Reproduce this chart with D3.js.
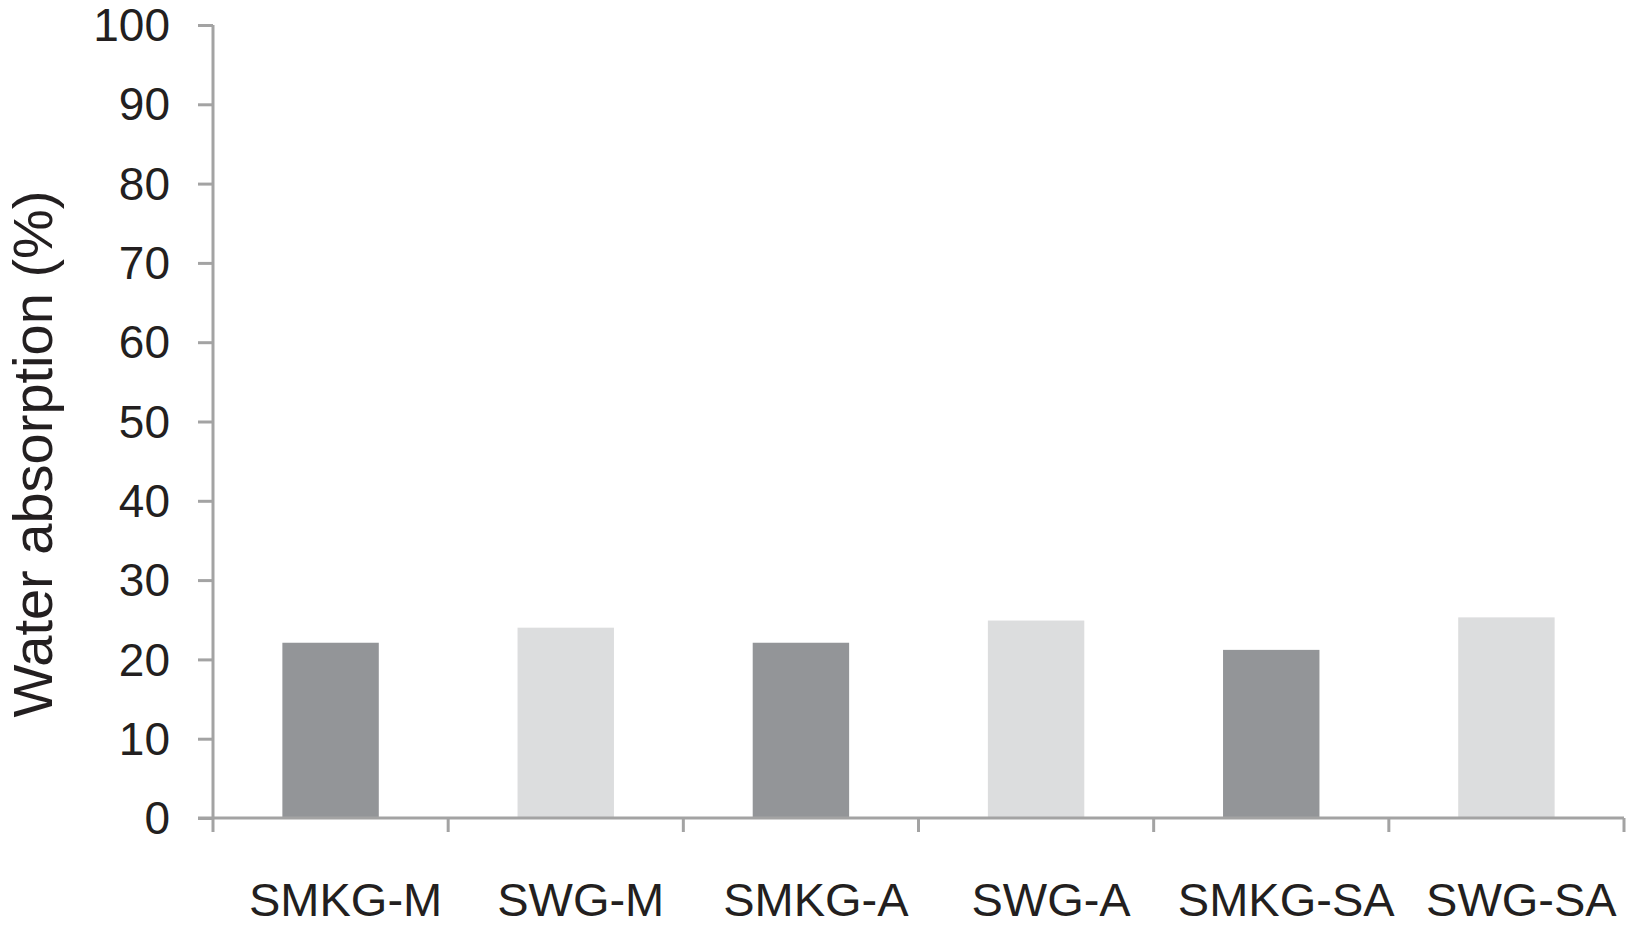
<!DOCTYPE html>
<html lang="en">
<head>
    <meta charset="UTF-8">
    <title>Water absorption</title>
    <script src="https://d3js.org/d3.v7.min.js"></script>
    <style>
      body { margin: 0; background: #fff; }
      svg text { font-family: "Liberation Sans", Arial, sans-serif; fill: #231f20; }
    </style>
</head>
<body>
    <svg width="1627" height="930"></svg>

    <script>
    // data
    var categories = ["SMKG-M", "SWG-M", "SMKG-A", "SWG-A", "SMKG-SA", "SWG-SA"];
    var absorption = [22.1, 24.0, 22.1, 24.9, 21.2, 25.3];
    var yTicks = [0, 10, 20, 30, 40, 50, 60, 70, 80, 90, 100];

    var data = categories.map((c, i) => ({ name: c, value: absorption[i] }));

    var margin = { left: 213, right: 3, top: 25, bottom: 112 };
    var width = 1627 - margin.left - margin.right;
    var height = 930 - margin.top - margin.bottom;

    var axisColor = "#a3a3a3";
    var barColors = ["#939598", "#dcddde"];

    const svg = d3.select("svg")
      .append("g")
      .attr("transform", `translate(${margin.left}, ${margin.top})`);

    const x = d3.scaleBand()
      .domain(categories)
      .range([0, width])
      .paddingInner(0.59)
      .paddingOuter(0.295);

    const y = d3.scaleLinear()
      .domain([0, 100])
      .range([height, 0]);

    // bars
    svg.selectAll(".bar")
      .data(data)
      .enter()
      .append("rect")
      .attr("class", "bar")
      .attr("x", d => x(d.name))
      .attr("y", d => y(d.value))
      .attr("width", x.bandwidth())
      .attr("height", d => height - y(d.value))
      .attr("fill", (d, i) => barColors[i % 2]);

    // y axis
    const yAxis = svg.append("g")
      .attr("class", "y-axis")
      .call(d3.axisLeft(y).tickValues(yTicks).tickSize(15).tickPadding(28));
    yAxis.select(".domain").attr("stroke", axisColor).attr("stroke-width", 3)
      .attr("d", `M0,${y(100)}V${height}`);
    yAxis.selectAll(".tick line").attr("stroke", axisColor).attr("stroke-width", 3);
    yAxis.selectAll(".tick text")
      .attr("fill", "#231f20")
      .style("font-size", "46px")
      .attr("dy", "0.34em");

    // x axis: ticks sit on the category boundaries
    const xAxis = svg.append("g")
      .attr("class", "x-axis")
      .attr("transform", `translate(0, ${height})`);
    xAxis.append("line")
      .attr("x1", -15).attr("x2", width)
      .attr("y1", 0).attr("y2", 0)
      .attr("stroke", axisColor).attr("stroke-width", 3);
    var bounds = d3.range(categories.length + 1).map(i => i * x.step());
    xAxis.selectAll(".xtick")
      .data(bounds)
      .enter()
      .append("line")
      .attr("class", "xtick")
      .attr("x1", d => d).attr("x2", d => d)
      .attr("y1", 0).attr("y2", 14)
      .attr("stroke", axisColor).attr("stroke-width", 3);
    xAxis.selectAll(".xlabel")
      .data(categories)
      .enter()
      .append("text")
      .attr("class", "xlabel")
      .attr("x", d => x(d) + x.bandwidth() / 2 + 15)
      .attr("y", 98)
      .attr("text-anchor", "middle")
      .style("font-size", "47px")
      .text(d => d);

    // y title
    svg.append("text")
      .attr("transform", "rotate(-90)")
      .attr("x", -(454 - margin.top))
      .attr("y", 52 - margin.left)
      .attr("text-anchor", "middle")
      .style("font-size", "56px")
      .text("Water absorption (%)");
    </script>
</body>
</html>
